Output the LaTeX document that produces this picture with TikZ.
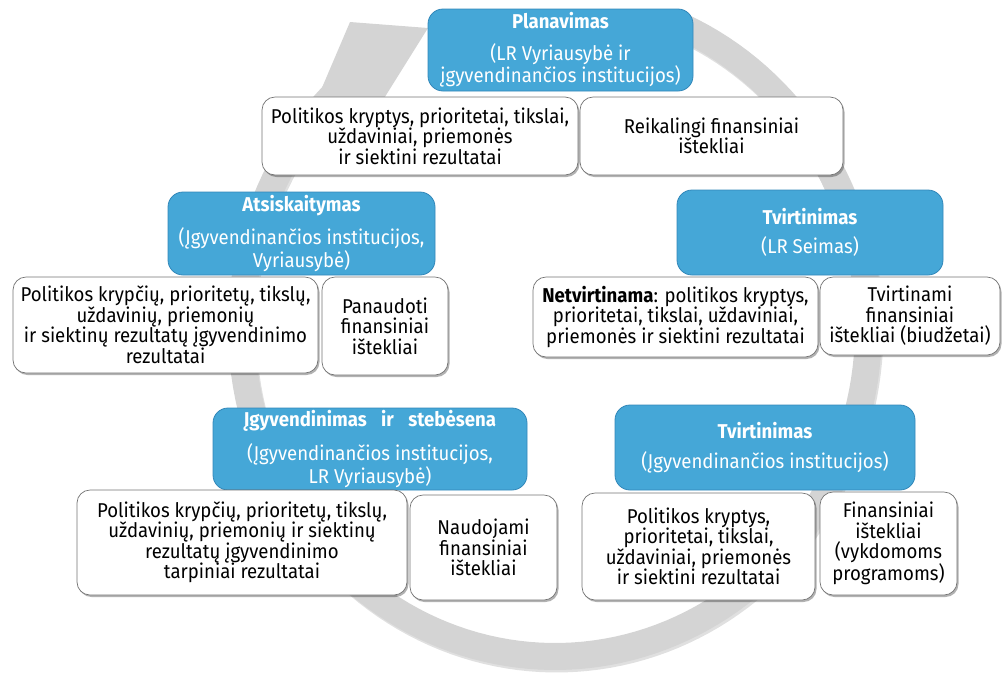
\documentclass[tikz,border=0pt]{standalone}
\usepackage{fontspec}
\setmainfont[FakeStretch=0.93]{Fira Sans}
\usetikzlibrary{shadows}
\definecolor{ringgrey}{RGB}{212,212,212}
\definecolor{boxblue}{RGB}{69,167,215}
\definecolor{blueedge}{RGB}{50,135,185}
\definecolor{wedge}{RGB}{115,115,115}
\newcommand{\diagfont}{\fontsize{20}{20.5}\selectfont}
\begin{document}
\begin{tikzpicture}[x=1pt,y=-1pt,
  bluebox/.style={draw=blueedge, line width=0.8pt, fill=boxblue, rounded corners=15pt,
    text=white, align=center, inner sep=0pt, font=\diagfont},
  whitebox/.style={draw=wedge, line width=0.7pt, fill=white, rounded corners=13pt,
    align=center, inner sep=0pt, font=\diagfont,
    drop shadow={shadow xshift=1.5pt, shadow yshift=-2pt, opacity=0.3, fill=black}},
]
\useasboundingbox (0,0) rectangle (1003,673);
% circular arrow (ring)
\begin{scope}[shift={(1.5,2.5)}]
\fill[black, opacity=0.12]
  plot[domain=-68:235, samples=150] ({555+327*cos(\x)},{327.5+342.5*sin(\x)})
  -- plot[domain=235:-68, samples=150] ({555+300*cos(\x)},{327.5+315.5*sin(\x)}) -- cycle;
\end{scope}
\fill[ringgrey]
  plot[domain=-68:235, samples=150] ({555+327*cos(\x)},{327.5+342.5*sin(\x)})
  -- plot[domain=235:-68, samples=150] ({555+300*cos(\x)},{327.5+315.5*sin(\x)}) -- cycle;
\coordinate (hA) at (350,22);
\coordinate (hT) at (428,28);
\coordinate (hC) at (383,100);
\coordinate (hD) at (318,97);
\fill[ringgrey] (hA) -- (hT) -- (hC) -- (hD) -- cycle;

% blue boxes
\node[bluebox, minimum width=265pt, minimum height=82pt] (plan) at (560.5,50)
  {\textbf{Planavimas}\\[11pt](LR Vyriausybė ir\\įgyvendinančios institucijos)};
\node[bluebox, minimum width=267pt, minimum height=83pt] (ats) at (301.5,233.5)
  {\textbf{Atsiskaitymas}\\[11pt](Įgyvendinančios institucijos,\\Vyriausybė)};
\node[bluebox, minimum width=266pt, minimum height=85pt] (tvs) at (810,232.5)
  {\textbf{Tvirtinimas}\\[9pt](LR Seimas)};
\node[bluebox, minimum width=314pt, minimum height=82pt] (igy) at (370,449)
  {\textbf{Įgyvendinimas\hspace{0.5em} ir\hspace{0.5em} stebėsena}\\[11pt](Įgyvendinančios institucijos,\\LR Vyriausybė)};
\node[bluebox, minimum width=300pt, minimum height=85pt] (tvi) at (765,447.5)
  {\textbf{Tvirtinimas}\\[9pt](Įgyvendinančios institucijos)};

% white boxes
\node[whitebox, minimum width=316pt, minimum height=78pt] (w1) at (420,136)
  {Politikos kryptys, prioritetai, tikslai,\\uždaviniai, priemonės\\ir siektini rezultatai};
\node[whitebox, minimum width=263pt, minimum height=78pt] (w2) at (711.5,136)
  {Reikalingi finansiniai\\ištekliai};
\node[whitebox, minimum width=305pt, minimum height=96pt] (w3) at (165.5,325)
  {Politikos krypčių, prioritetų, tikslų,\\uždavinių, priemonių\\ir siektinų rezultatų įgyvendinimo\\rezultatai};
\node[whitebox, minimum width=126pt, minimum height=98pt] (w4) at (385,326)
  {Panaudoti\\finansiniai\\ištekliai};
\node[whitebox, minimum width=285pt, minimum height=80pt] (w5) at (675.5,317)
  {\textbf{Netvirtinama}: politikos kryptys,\\prioritetai, tikslai, uždaviniai,\\priemonės ir siektini rezultatai};
\node[whitebox, minimum width=180pt, minimum height=78pt] (w6) at (910,316)
  {Tvirtinami\\finansiniai\\ištekliai (biudžetai)};
\node[whitebox, minimum width=330pt, minimum height=105pt] (w7) at (242,542.5)
  {Politikos krypčių, prioritetų, tikslų,\\uždavinių, priemonių ir siektinų\\rezultatų įgyvendinimo\\tarpiniai rezultatai};
\node[whitebox, minimum width=147pt, minimum height=105pt] (w8) at (483.5,547.5)
  {Naudojami\\finansiniai\\ištekliai};
\node[whitebox, minimum width=233pt, minimum height=107pt] (w9) at (698.5,546.5)
  {Politikos kryptys,\\prioritetai, tikslai,\\uždaviniai, priemonės\\ir siektini rezultatai};
\node[whitebox, minimum width=137pt, minimum height=103pt] (w10) at (888.5,543.5)
  {Finansiniai\\ištekliai\\(vykdomoms\\programoms)};
\end{tikzpicture}
\end{document}
